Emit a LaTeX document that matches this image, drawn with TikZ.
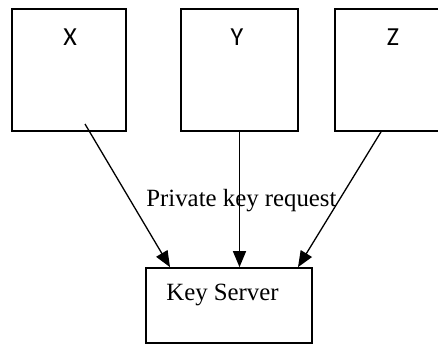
\documentclass[tikz,border=0pt]{standalone}
\usepackage{fontspec}
\setmainfont{Liberation Serif}
\newfontfamily\tagfont{Carlito}
\usetikzlibrary{arrows.meta}

\begin{document}
\begin{tikzpicture}[x=0.5pt, y=-0.5pt,
    box/.style={draw, line width=0.85pt, minimum width=57pt, minimum height=61pt, inner sep=0pt},
    tag/.style={font=\tagfont\fontsize{13}{15}\selectfont, anchor=base, inner sep=0pt},
    txt/.style={font=\fontsize{12.4}{14}\selectfont, anchor=base west, inner sep=0pt},
    link/.style={line width=0.65pt, -{Triangle[length=8pt, width=6.5pt]}}]

  \useasboundingbox (0, 0) rectangle (438, 344);

  \node[box] (bx) at (69, 70) {};
  \node[box, minimum width=58.5pt] (by) at (239.5, 70) {};
  \node[box] (bz) at (392, 70) {};
  \node[box, minimum width=83pt, minimum height=37.5pt] (ks) at (229, 305.5) {};

  \node[tag] (lx) at (70, 45) {X};
  \node[tag] (ly) at (237, 45) {Y};
  \node[tag] (lz) at (393, 45) {Z};

  \node[txt] (kst) at (166, 300) {Key Server};
  \node[txt] (req) at (146, 206) {Private key request};

  \coordinate (xs) at (85, 124);

  \draw[link] (xs) -- ([xshift=-29.5pt]ks.north);
  \draw[link] (by.south) -- (by.south |- ks.north);
  \draw[link] ([xshift=-5.5pt]bz.south) -- ([xshift=34.5pt]ks.north);

\end{tikzpicture}
\end{document}
